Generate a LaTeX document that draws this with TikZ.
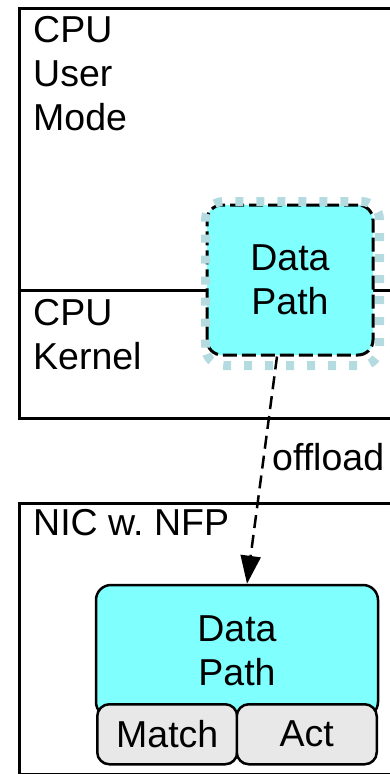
\documentclass[tikz,border=0pt]{standalone}
\usepackage{fontspec}
\setmainfont{Liberation Sans}
\usepackage{xcolor}
\usepackage{tikz}
\usetikzlibrary{arrows.meta, positioning}

\definecolor{pathcyan}{HTML}{80FFFF}
\definecolor{tablegray}{HTML}{E8E8E8}
\definecolor{offdots}{HTML}{B4DCE0}

\tikzset{
  lbl/.style={font=\fontsize{37.5}{44}\selectfont, inner sep=0pt, align=left},
  hostbox/.style={draw, line width=3pt, inner sep=0pt, anchor=north west},
  dpbox/.style={lbl, align=center, draw, fill=pathcyan, rounded corners=15pt, line width=2.5pt},
  tblbox/.style={lbl, draw, fill=tablegray, rounded corners=12pt, line width=2.5pt,
                 minimum width=140pt, minimum height=60pt},
}

\begin{document}
\begin{tikzpicture}[x=1pt, y=-1pt]
\useasboundingbox (0,0) rectangle (390,774);
\clip (0,0) rectangle (390,774);
\node[hostbox, minimum width=420pt, minimum height=410pt] (cpu) at (18,7) {};
\node[hostbox, minimum width=420pt, minimum height=271pt] (nic) at (18,502) {};
\draw[line width=3pt] (18,290) -- (410,290);

% base anchor sits on the last line
\node[lbl, anchor=base west] (umode) at (33,130) {CPU\\User\\Mode};
\node[lbl, anchor=base west] (kmode) at (33,369) {CPU\\Kernel};
\node[lbl, anchor=base west] (nfp) at (33,535) {NIC w.\ NFP};

\node[dpbox, line width=3pt, dash pattern=on 14pt off 5pt, minimum width=166pt, minimum height=150pt] (dpcpu) at (290,280) {Data\\Path};
\draw[offdots, line width=9pt, dash pattern=on 8pt off 13pt, rounded corners=18pt]
  ([yshift=-9pt]dpcpu.south west) rectangle ([xshift=5pt,yshift=2pt]dpcpu.north east);

\node[dpbox, minimum width=282pt, minimum height=132pt] (dpnic) at (237,651) {Data\\Path};
\node[tblbox, anchor=north west] (match) at (96,703) {Match};
\node[tblbox, anchor=north east] (act) at (378,703) {Act};

\draw[line width=2.5pt, dash pattern=on 13pt off 7pt, -{Triangle[length=28pt, width=20pt]}]
  ([xshift=-13pt]dpcpu.south) -- ([xshift=10pt]dpnic.north);
\node[lbl, anchor=base west] (offl) at (272,470) {offload};
\end{tikzpicture}
\end{document}
